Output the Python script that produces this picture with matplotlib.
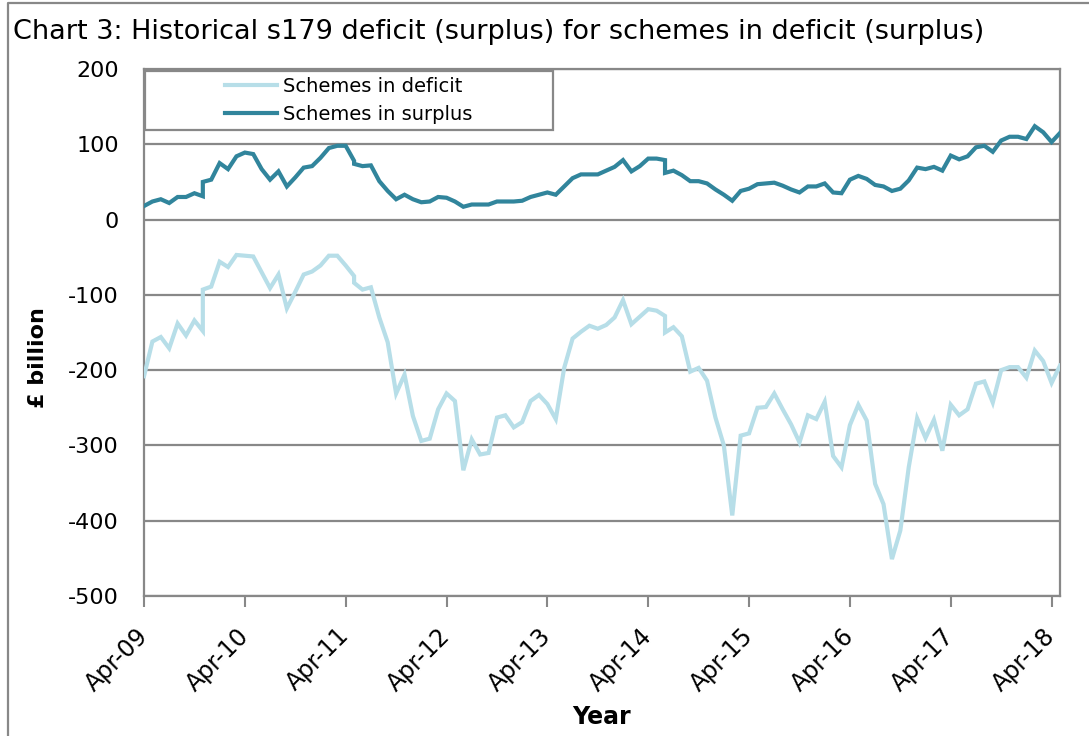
import numpy as np
import matplotlib
matplotlib.use("Agg")
from matplotlib import pyplot as plt
from matplotlib.lines import Line2D
from matplotlib.patches import Rectangle

plt.rcParams['axes.unicode_minus'] = False

# Months since Apr-09; a few months appear twice where the basis changed
months = [0, 1, 2, 3, 4, 5, 6, 7, 7, 8, 9, 10, 11, 12, 13, 14, 15, 16, 17, 18,
          19, 20, 21, 22, 23, 24, 25, 25, 26, 27, 28, 29, 30, 31, 32, 33, 34, 35,
          36, 37, 38, 39, 40, 41, 42, 43, 44, 45, 46, 47, 48, 49, 50, 51, 52, 53,
          54, 55, 56, 57, 58, 59, 60, 61, 62, 62, 63, 64, 65, 66, 67, 68, 69, 70,
          71, 72, 73, 74, 75, 76, 77, 78, 79, 80, 81, 82, 83, 84, 85, 86, 87, 88,
          89, 90, 91, 92, 93, 94, 95, 96, 97, 98, 99, 100, 101, 102, 103, 104,
          105, 106, 107, 108, 109]

deficit = [-208, -162, -156, -171, -138, -154, -134, -148, -93, -89, -56, -63,
           -47, -48, -49, -70, -91, -73, -118, -96, -73, -69, -61, -48, -48, -61,
           -75, -84, -93, -90, -130, -163, -231, -206, -261, -294, -291, -252,
           -231, -241, -333, -292, -312, -310, -263, -260, -276, -269, -241, -233,
           -245, -265, -197, -158, -149, -141, -145, -140, -130, -107, -139, -129,
           -119, -121, -128, -150, -143, -155, -202, -197, -214, -263, -300, -393,
           -287, -284, -250, -249, -231, -252, -272, -296, -260, -265, -242, -314,
           -329, -273, -246, -267, -351, -378, -451, -413, -329, -264, -290, -266,
           -307, -246, -260, -252, -218, -215, -243, -200, -196, -196, -210, -174,
           -188, -217, -194]

surplus = [18, 24, 27, 22, 30, 30, 35, 31, 50, 53, 75, 67, 84, 89, 87, 67, 53,
           64, 44, 56, 69, 71, 82, 95, 98, 98, 78, 74, 71, 72, 51, 38, 27, 33, 27,
           23, 24, 30, 29, 24, 17, 20, 20, 20, 24, 24, 24, 25, 30, 33, 36, 33, 44,
           55, 60, 60, 60, 65, 70, 79, 64, 71, 81, 81, 79, 62, 65, 59, 51, 51, 48,
           40, 33, 25, 38, 41, 47, 48, 49, 45, 40, 36, 44, 44, 48, 36, 35, 53, 58,
           54, 46, 44, 38, 41, 52, 69, 67, 70, 65, 85, 80, 84, 96, 98, 90, 105,
           110, 110, 107, 124, 116, 103, 115]

tick_months = [0, 12, 24, 36, 48, 60, 72, 84, 96, 108]
tick_labels = ['Apr-09', 'Apr-10', 'Apr-11', 'Apr-12', 'Apr-13', 'Apr-14',
               'Apr-15', 'Apr-16', 'Apr-17', 'Apr-18']

grey = '#888888'

fig = plt.figure(figsize=(10.89, 7.36), dpi=100)
ax = fig.add_axes([144 / 1089, 1 - 596 / 736, 916 / 1089, 527 / 736])

ax.plot(months, deficit, color='#B7DEE8', lw=3, label='Schemes in deficit',
        solid_joinstyle='miter', zorder=3)
ax.plot(months, surplus, color='#31859C', lw=3, label='Schemes in surplus',
        solid_joinstyle='miter', zorder=3)

ax.set_xlim(0, 109)
ax.set_ylim(-500, 200)
ax.set_yticks(np.arange(-500, 201, 100))
ax.set_xticks(tick_months)
ax.set_xticklabels(tick_labels, rotation=45, ha='right', va='center',
                   rotation_mode='anchor', fontsize=17)
ax.tick_params(axis='y', labelsize=16, length=0, pad=18)
ax.tick_params(axis='x', length=8, color=grey, width=1.5, pad=18)
ax.grid(axis='y', color=grey, lw=1.6)
for s in ax.spines.values():
    s.set_color(grey)
    s.set_linewidth(1.6)

ax.set_ylabel('£ billion', fontsize=16, fontweight='bold')
ax.yaxis.set_label_coords(-0.105, 0.453)
ax.set_xlabel('Year', fontsize=17, fontweight='bold')
ax.xaxis.set_label_coords(0.499, -0.207)

# legend box sits on top of the plot area, entries centred inside
ax.add_patch(Rectangle((0.001, 0.884), 0.445, 0.112, transform=ax.transAxes,
                       facecolor='white', edgecolor=grey, lw=1.6, zorder=4))
ax.legend(loc='center', bbox_to_anchor=(0.2235, 0.94), frameon=False,
          fontsize=14, handlelength=2.7, handletextpad=0.3, labelspacing=0.45)

fig.text(13 / 1089, 1 - 32 / 736,
         'Chart 3: Historical s179 deficit (surplus) for schemes in deficit (surplus)',
         fontsize=19.5, ha='left', va='center')

# outer chart border (left and top edges are visible)
fig.add_artist(Line2D([8 / 1089, 8 / 1089, 1.0], [0, 1 - 3 / 736, 1 - 3 / 736],
                      color=grey, lw=1.6, transform=fig.transFigure))

fig.savefig('out.png', dpi=100)
